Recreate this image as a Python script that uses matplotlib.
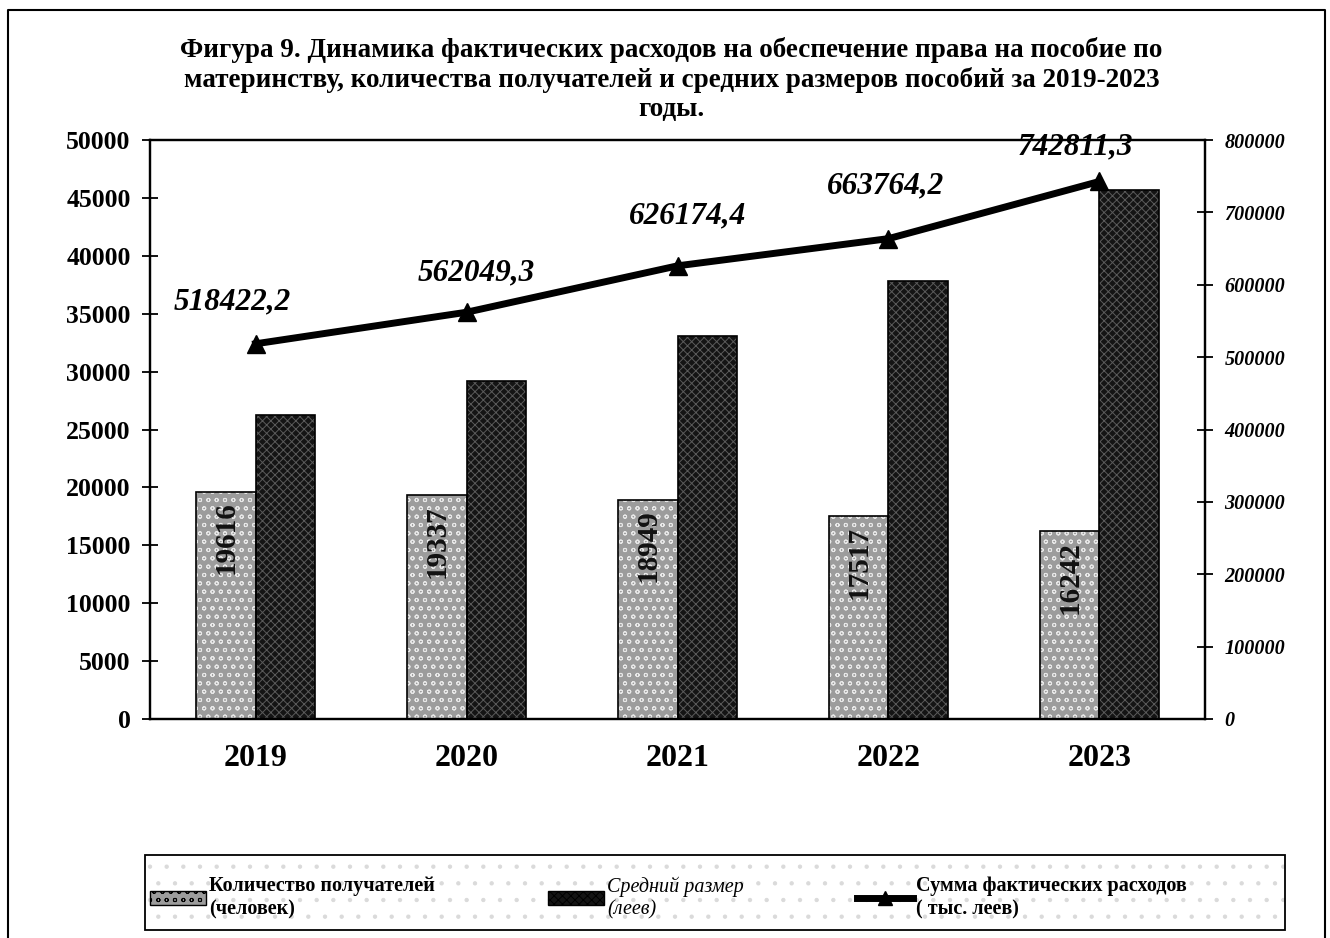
import numpy as np
import matplotlib
matplotlib.use('Agg')
from matplotlib import pyplot as plt
from matplotlib.patches import Patch, Rectangle
from matplotlib.lines import Line2D

years = ['2019', '2020', '2021', '2022', '2023']
recipients = [19616, 19337, 18949, 17517, 16242]          # количество получателей
avg_size = [26250, 29200, 33100, 37800, 45650]            # средний размер (оценка по высоте)
expenses = [518422.2, 562049.3, 626174.4, 663764.2, 742811.3]  # тыс. леев
expense_labels = ['518422,2', '562049,3', '626174,4', '663764,2', '742811,3']

# смещения подписей линии (в точках)
label_offsets = [(-17, 30), (7, 28), (7, 36), (-2, 38), (-17, 25)]

plt.rcParams['font.family'] = ['Liberation Serif', 'DejaVu Serif']
plt.rcParams['hatch.linewidth'] = 0.7

fig = plt.figure(figsize=(13.3, 9.38), dpi=100)
ax = fig.add_axes([0.1128, 0.2335, 0.7932, 0.6172])
ax2 = ax.twinx()

x = np.arange(len(years))
w = 0.28

# светлые столбцы: заливка + штриховка, потом контур
ax.bar(x - w / 2, recipients, w, color='#9c9c9c', hatch='oo', edgecolor='#e8e8e8',
       linewidth=0, zorder=2)
ax.bar(x - w / 2, recipients, w, fill=False, edgecolor='black', linewidth=1.2, zorder=3)
# тёмные столбцы
ax.bar(x + w / 2, avg_size, w, color='#141414', hatch='xxxx', edgecolor='#5a5a5a',
       linewidth=0, zorder=2)
ax.bar(x + w / 2, avg_size, w, fill=False, edgecolor='black', linewidth=1.2, zorder=3)

for xi, v in zip(x, recipients):
    ax.annotate(str(v), (xi - w / 2, v), xytext=(0, -7), textcoords='offset points',
                rotation=90, ha='center', va='top', fontsize=21, fontweight='bold',
                color='#111111', zorder=4)

ax.set_xlim(-0.5, 4.5)
ax.set_ylim(0, 50000)
ax.set_yticks(np.arange(0, 50001, 5000))
ax.set_xticks(x)
ax.set_xticklabels(years, fontsize=23, fontweight='bold')
ax.tick_params(axis='x', length=0, pad=18)
ax.tick_params(axis='y', direction='inout', length=12, width=1.3, labelsize=18.5, pad=8)
for lab in ax.get_yticklabels():
    lab.set_fontweight('bold')

for s in ['left', 'bottom', 'top', 'right']:
    ax.spines[s].set_linewidth(1.6)
    ax2.spines[s].set_linewidth(1.6)

# линия расходов
ax2.plot(x, expenses, color='black', linewidth=5, marker='^', markersize=13, zorder=5)
for xi, v, t, off in zip(x, expenses, expense_labels, label_offsets):
    ax2.annotate(t, (xi, v), xytext=off, textcoords='offset points', ha='center',
                 va='center', fontsize=22.5, fontweight='bold', fontstyle='italic')
ax2.set_ylim(0, 800000)
ax2.set_yticks(np.arange(0, 800001, 100000))
ax2.tick_params(axis='y', direction='inout', length=12, width=1.3, labelsize=14.5, pad=8)
for lab in ax2.get_yticklabels():
    lab.set_fontweight('bold')
    lab.set_fontstyle('italic')
ax.set_zorder(1)
ax2.set_zorder(2)
ax2.patch.set_visible(False)

fig.text(0.505, 0.961, 'Фигура 9. Динамика фактических расходов на обеспечение права на пособие по\n'
         'материнству, количества получателей и средних размеров пособий за 2019-2023\nгоды.',
         ha='center', va='top', fontsize=19.5, fontweight='bold', linespacing=1.22)

# рамка легенды с точечным фоном
fig.add_artist(Rectangle((145 / 1330, 1 - 930 / 938), 1140 / 1330, 75 / 938,
                         transform=fig.transFigure, facecolor='white', edgecolor='#dadada',
                         hatch='.', linewidth=0))
fig.add_artist(Rectangle((145 / 1330, 1 - 930 / 938), 1140 / 1330, 75 / 938,
                         transform=fig.transFigure, fill=False, edgecolor='black',
                         linewidth=1.3))

handles = [Patch(facecolor='#9c9c9c', hatch='oo', edgecolor='black'),
           Patch(facecolor='#141414', hatch='xxxx', edgecolor='black'),
           Line2D([0], [0], color='black', linewidth=5, marker='^', markersize=10)]
labels = ['Количество получателей\n(человек)', 'Средний размер\n(леев)',
          'Сумма фактических расходов\n( тыс. леев)']
leg = fig.legend(handles, labels, ncol=3, loc='upper left',
                 bbox_to_anchor=(150 / 1330, 1 - 876 / 938), fontsize=14.5,
                 frameon=False, handlelength=2.8, handletextpad=0.15, borderpad=0,
                 borderaxespad=0, columnspacing=5.6)
texts = leg.get_texts()
texts[0].set_fontweight('bold')
texts[1].set_fontstyle('italic')
texts[2].set_fontweight('bold')

# рамка вокруг рисунка
fx = [8 / 1330, 8 / 1330, 1325 / 1330, 1325 / 1330]
fy = [0, 1 - 10 / 938, 1 - 10 / 938, 0]
fig.add_artist(Line2D(fx, fy, color='black', linewidth=1.5, transform=fig.transFigure))

fig.savefig('out.png', dpi=100)
